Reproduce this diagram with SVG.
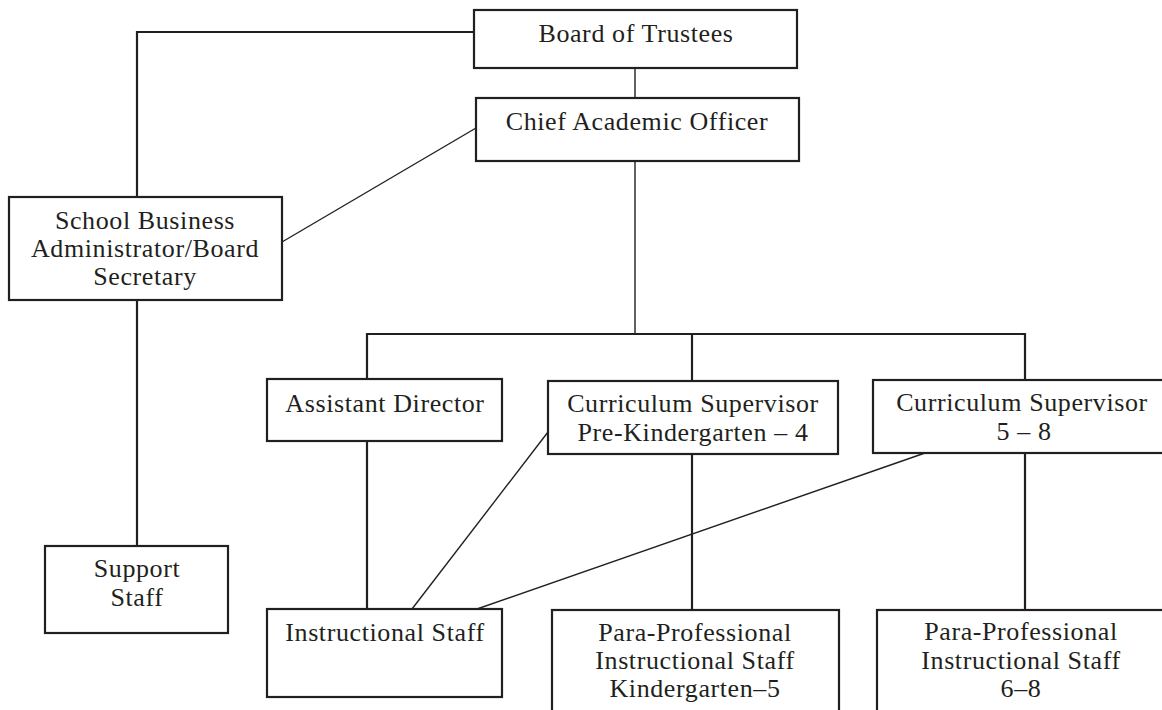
<svg xmlns="http://www.w3.org/2000/svg" width="1162" height="710" viewBox="0 0 1162 710">
<style>
.box{fill:#fff;stroke:#231f20;stroke-width:2.2}
.t{font-family:"Liberation Serif","Times New Roman",serif;font-size:26px;fill:#231f20;text-anchor:middle;letter-spacing:0.6px}
.c{fill:none;stroke:#231f20;stroke-width:2.2}
.d{fill:none;stroke:#231f20;stroke-width:1.4}
</style>
<rect width="1162" height="710" fill="#fff"/>
<g id="connectors">
<polyline class="c" points="474,32 137,32 137,197"/>
<line class="d" x1="635" y1="68" x2="635" y2="98"/>
<line class="d" x1="476" y1="128" x2="282" y2="242"/>
<line class="d" x1="635" y1="161" x2="635" y2="334"/>
<polyline class="c" points="367,379 367,334 1025,334 1025,380"/>
<line class="c" x1="692" y1="334" x2="692" y2="381"/>
<line class="c" x1="137" y1="300" x2="137" y2="546"/>
<line class="c" x1="367" y1="441" x2="367" y2="609"/>
<line class="d" x1="548" y1="432" x2="412" y2="609"/>
<line class="d" x1="925" y1="453" x2="477" y2="609"/>
<line class="c" x1="692" y1="455" x2="692" y2="610"/>
<line class="c" x1="1025" y1="453" x2="1025" y2="610"/>
</g>
<g id="board">
<rect class="box" x="474" y="10" width="323" height="58"/>
<text class="t" x="636" y="42">Board of Trustees</text>
</g>
<g id="cao">
<rect class="box" x="476" y="98" width="323" height="63"/>
<text class="t" x="637" y="130">Chief Academic Officer</text>
</g>
<g id="sba">
<rect class="box" x="9" y="197" width="273" height="103"/>
<text class="t" x="145" y="229">School Business</text>
<text class="t" x="145" y="257">Administrator/Board</text>
<text class="t" x="145" y="285">Secretary</text>
</g>
<g id="support">
<rect class="box" x="45" y="546" width="183" height="87"/>
<text class="t" x="137" y="577">Support</text>
<text class="t" x="137" y="606">Staff</text>
</g>
<g id="asstdir">
<rect class="box" x="267" y="379" width="235" height="62"/>
<text class="t" x="385" y="412">Assistant Director</text>
</g>
<g id="cspk">
<rect class="box" x="548" y="381" width="290" height="73"/>
<text class="t" x="693" y="412">Curriculum Supervisor</text>
<text class="t" x="693" y="441">Pre-Kindergarten – 4</text>
</g>
<g id="cs58">
<rect class="box" x="873" y="380" width="298" height="73"/>
<text class="t" x="1022" y="411">Curriculum Supervisor</text>
<text class="t" x="1024" y="440">5 – 8</text>
</g>
<g id="instr">
<rect class="box" x="267" y="609" width="235" height="88"/>
<text class="t" x="385" y="641">Instructional Staff</text>
</g>
<g id="parak5">
<rect class="box" x="552" y="610" width="287" height="110"/>
<text class="t" x="695" y="641">Para-Professional</text>
<text class="t" x="695" y="669">Instructional Staff</text>
<text class="t" x="695" y="697">Kindergarten–5</text>
</g>
<g id="para68">
<rect class="box" x="877" y="610" width="296" height="110"/>
<text class="t" x="1021" y="640">Para-Professional</text>
<text class="t" x="1021" y="669">Instructional Staff</text>
<text class="t" x="1021" y="697">6–8</text>
</g>
</svg>
